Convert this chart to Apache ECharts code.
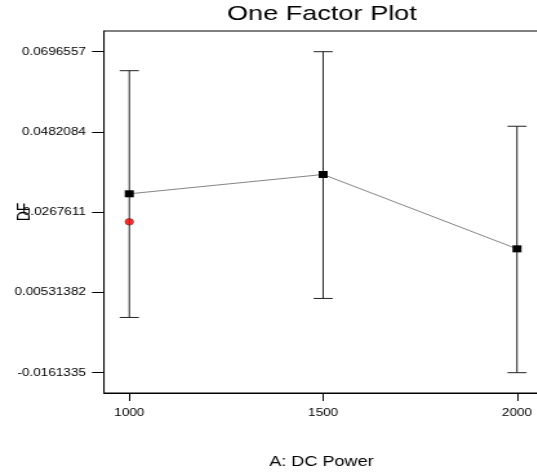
<!DOCTYPE html>
<html>
<head>
<meta charset="utf-8">
<script src="https://cdn.jsdelivr.net/npm/echarts@6/dist/echarts.min.js"></script>
<style>
html,body{margin:0;padding:0;overflow:hidden;background:#fff;width:537px;height:476px;}
#chart{width:420px;height:476px;transform:scaleX(1.29);transform-origin:0 0;}
</style>
</head>
<body>
<div id="chart"></div>
<script>
// Data
const categories = [1000, 1500, 2000];
const means = [0.03168, 0.03684, 0.01697];
const lowerBounds = [-0.00137, 0.00371, -0.01613];
const upperBounds = [0.06458, 0.06966, 0.04973];
const actualPoint = [1000, 0.02419];
const yTickValues = [0.0696557, 0.0482084, 0.0267611, 0.00531382, -0.0161335];
const yTickLabels = ['0.0696557', '0.0482084', '0.0267611', '0.00531382', '-0.0161335'];
const xTickValues = [1000, 1500, 2000];
const xTickLabels = ['1000', '1500', '2000'];

const FONT = 'Liberation Sans, Arial, sans-serif';
const chart = echarts.init(document.getElementById('chart'), null, {renderer: 'canvas'});

function labelFor(values, labels, v) {
  let best = 0, bd = Infinity;
  values.forEach((t, i) => { const d = Math.abs(t - v); if (d < bd) { bd = d; best = i; } });
  return labels[best];
}

const errData = categories.map((c, i) => [c, lowerBounds[i], upperBounds[i]]);

chart.setOption({
  animation: false,
  backgroundColor: '#fff',
  title: {
    text: 'One Factor Plot',
    left: 176, top: 4, padding: 0,
    textStyle: {fontFamily: FONT, fontSize: 21, fontWeight: 'normal', color: '#000'}
  },
  grid: {left: 80.6, top: 31, width: 337.2, height: 362, containLabel: false, outerBoundsMode: 'none',
    show: true, borderColor: '#000', borderWidth: 1, backgroundColor: 'transparent'},
  xAxis: {
    type: 'value', min: 934.7, max: 2056.7,
    name: 'A: DC Power', nameLocation: 'middle', nameGap: 62, nameMoveOverlap: false,
    nameTextStyle: {fontFamily: FONT, fontSize: 14, color: '#000'},
    axisLine: {show: true, onZero: false, lineStyle: {color: '#000', width: 1}},
    axisTick: {show: true, customValues: xTickValues, length: 8, lineStyle: {color: '#000'}},
    axisLabel: {customValues: xTickValues, margin: 15, fontFamily: FONT, fontSize: 10.5, color: '#000',
      formatter: v => labelFor(xTickValues, xTickLabels, v)},
    splitLine: {show: false}
  },
  yAxis: {
    type: 'value', min: -0.02156, max: 0.07519,
    name: 'DF', nameLocation: 'middle', nameGap: 54.5, nameRotate: 90, nameMoveOverlap: false,
    nameTextStyle: {fontFamily: FONT, fontSize: 14, color: '#000'},
    axisLine: {show: true, onZero: false, lineStyle: {color: '#000', width: 1}},
    axisTick: {show: true, customValues: yTickValues, length: 9.3, lineStyle: {color: '#000'}},
    axisLabel: {customValues: yTickValues, margin: 14, fontFamily: FONT, fontSize: 10.5, color: '#000',
      formatter: v => labelFor(yTickValues, yTickLabels, v)},
    splitLine: {show: false}
  },
  series: [
    {
      type: 'custom',
      data: errData,
      z: 1,
      renderItem: function (params, api) {
        const x = api.value(0);
        const lo = api.coord([x, api.value(1)]);
        const hi = api.coord([x, api.value(2)]);
        const hw = 7.4;
        const st = {stroke: '#222', lineWidth: 1};
        return {
          type: 'group',
          children: [
            {type: 'line', shape: {x1: lo[0], y1: lo[1], x2: hi[0], y2: hi[1]}, style: st},
            {type: 'line', shape: {x1: hi[0] - hw, y1: hi[1], x2: hi[0] + hw, y2: hi[1]}, style: st},
            {type: 'line', shape: {x1: lo[0] - hw, y1: lo[1], x2: lo[0] + hw, y2: lo[1]}, style: st}
          ]
        };
      }
    },
    {
      type: 'line',
      data: categories.map((c, i) => [c, means[i]]),
      z: 3,
      symbol: 'rect', symbolSize: 7,
      itemStyle: {color: '#000'},
      lineStyle: {color: '#666', width: 0.8}
    },
    {
      type: 'scatter',
      data: [actualPoint],
      z: 4,
      symbol: 'circle', symbolSize: 6.5,
      itemStyle: {color: '#ff0000', borderColor: '#550000', borderWidth: 0.6}
    }
  ]
});
</script>
</body>
</html>
